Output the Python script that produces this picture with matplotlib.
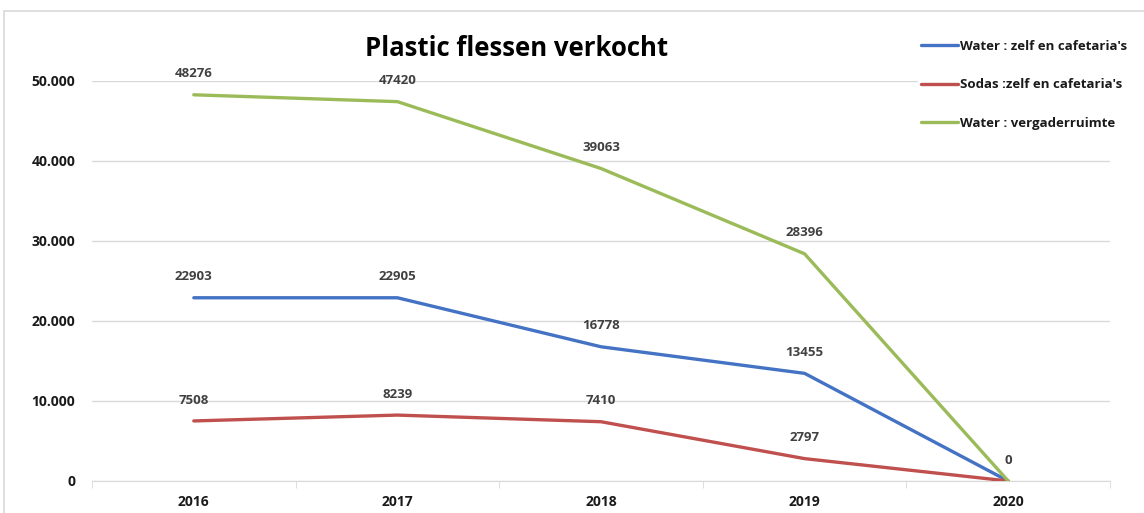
import matplotlib
matplotlib.use("Agg")
from matplotlib import pyplot as plt
from matplotlib.patches import Rectangle
from matplotlib.ticker import FuncFormatter

years = ["2016", "2017", "2018", "2019", "2020"]
water_zelf = [22903, 22905, 16778, 13455, 0]
sodas_zelf = [7508, 8239, 7410, 2797, 0]
water_verg = [48276, 47420, 39063, 28396, 0]

series_names = ["Water : zelf en cafetaria's", "Sodas :zelf en cafetaria's", "Water : vergaderruimte"]
colors = ["#4472C4", "#C0504D", "#9BBB59"]

# the three 2020 labels sit on top of each other, only the last one shows
show_label = [
    [True, True, True, True, False],
    [True, True, True, True, False],
    [True, True, True, True, True],
]

plt.rcParams["font.family"] = ["Open Sans", "DejaVu Sans"]

fig = plt.figure(figsize=(11.44, 5.13), dpi=100)
ax = fig.add_axes([92 / 1144, 1 - 481 / 513, (1110 - 92) / 1144, (481 - 81) / 513])

x = list(range(len(years)))
all_series = [water_zelf, sodas_zelf, water_verg]
for vals, name, c, shows in zip(all_series, series_names, colors, show_label):
    ax.plot(x, vals, color=c, lw=2.4, label=name, solid_capstyle="round", zorder=3)
    for xi, v, show in zip(x, vals, shows):
        if not show:
            continue
        ax.annotate(f"{v}", (xi, v), xytext=(0, 15), textcoords="offset points",
                    ha="center", va="center", fontsize=9.5, color="#404040",
                    fontweight="bold", annotation_clip=False)

ax.set_xlim(-0.5, len(years) - 0.5)
ax.set_ylim(0, 50000)
ax.set_yticks(range(0, 50001, 10000))
ax.yaxis.set_major_formatter(FuncFormatter(lambda v, p: f"{int(v):,}".replace(",", ".")))
ax.set_xticks(x)
ax.set_xticklabels(years)
ax.set_xticks([i - 0.5 for i in range(len(years) + 1)], minor=True)

ax.grid(axis="y", color="#D9D9D9", lw=1)
for s in ["top", "right", "left"]:
    ax.spines[s].set_visible(False)
ax.spines["bottom"].set_color("#D9D9D9")
ax.tick_params(axis="y", length=0, pad=12, labelsize=10, labelcolor="#1a1a1a")
ax.tick_params(axis="x", which="major", length=0, pad=10, labelsize=10, labelcolor="#1a1a1a")
ax.tick_params(axis="x", which="minor", length=5, color="#D9D9D9")
for lab in ax.get_xticklabels() + ax.get_yticklabels():
    lab.set_fontweight("bold")

fig.text(517 / 1144, 1 - 49 / 513, "Plastic flessen verkocht", ha="center", va="center",
         fontsize=18.5, fontweight="bold", color="black")

leg = fig.legend(loc="upper left", bbox_to_anchor=(918 / 1144, 1 - 37 / 513), frameon=True,
                 fontsize=9.5, handlelength=2.8, handletextpad=0.2, labelspacing=1.95,
                 borderaxespad=0, borderpad=0.2)
leg.get_frame().set_edgecolor("white")
leg.get_frame().set_facecolor("white")
leg.get_frame().set_alpha(1)
for t in leg.get_texts():
    t.set_fontweight("bold")
    t.set_color("#1a1a1a")

fig.patches.append(Rectangle((4 / 1144, -0.1), 1.2, 1 - 11 / 513 + 0.1, transform=fig.transFigure,
                             fill=False, edgecolor="#D9D9D9", lw=1.2))

fig.savefig("out.png", dpi=100)
